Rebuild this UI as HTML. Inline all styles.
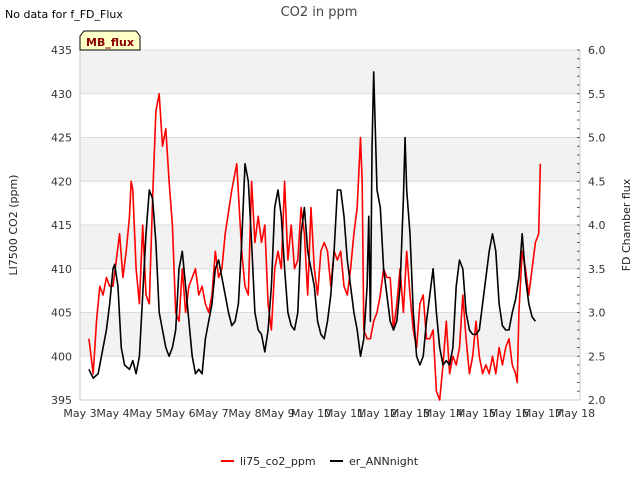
<!DOCTYPE html>
<html><head><meta charset="utf-8"><style>
body{margin:0;background:#fff;font-family:"Liberation Sans","DejaVu Sans",sans-serif}
svg text{font-family:"DejaVu Sans","Liberation Sans",sans-serif}
</style></head><body>
<svg id="c" width="640" height="480" viewBox="0 0 640 480">
<rect width="640" height="480" fill="#fff"/>
<text x="5" y="18" font-size="11" fill="#000">No data for f_FD_Flux</text>
<text x="319" y="16" font-size="13" fill="#444" text-anchor="middle">CO2 in ppm</text>
<g id="grid"></g>
<g id="axes"></g>
<g id="series"></g>
<g>
<path d="M80,50 L80,36 L84,31 L136,31 L140,36 L140,50 Z" fill="#ffffc8" stroke="#000" stroke-width="1"/>
<text x="110" y="46" font-size="11" font-weight="bold" fill="#8b0000" text-anchor="middle">MB_flux</text></g>
<text transform="translate(17,225) rotate(-90)" font-size="11" fill="#222" text-anchor="middle">LI7500 CO2 (ppm)</text>
<text transform="translate(630,225) rotate(-90)" font-size="11" fill="#222" text-anchor="middle">FD Chamber flux</text>
<g>
<line x1="221" y1="461" x2="234" y2="461" stroke="#f00" stroke-width="2"/>
<text x="240" y="465" font-size="11" fill="#222">li75_co2_ppm</text>
<line x1="330" y1="461" x2="343" y2="461" stroke="#000" stroke-width="2"/>
<text x="349" y="465" font-size="11" fill="#222">er_ANNnight</text></g>
</svg>
<script>
const xTickLabels=["May 3","May 4","May 5","May 6","May 7","May 8","May 9","May 10","May 11","May 12","May 13","May 14","May 15","May 16","May 17","May 18"];
const leftTicks=[395,400,405,410,415,420,425,430,435];
const rightTicks=["2.0","2.5","3.0","3.5","4.0","4.5","5.0","5.5","6.0"];
const redDays=[3.27,3.4,3.5,3.6,3.7,3.8,3.9,4.0,4.1,4.2,4.3,4.4,4.5,4.55,4.6,4.7,4.8,4.9,5.0,5.1,5.2,5.3,5.4,5.5,5.6,5.7,5.8,5.9,6.0,6.1,6.2,6.3,6.4,6.5,6.6,6.7,6.8,6.9,7.0,7.1,7.2,7.3,7.4,7.6,7.75,7.9,8.0,8.1,8.2,8.3,8.4,8.5,8.6,8.7,8.8,8.9,9.0,9.1,9.2,9.3,9.4,9.5,9.6,9.7,9.8,9.9,10.0,10.1,10.2,10.3,10.4,10.5,10.6,10.7,10.8,10.9,11.0,11.1,11.2,11.3,11.4,11.5,11.55,11.6,11.7,11.8,11.9,12.0,12.1,12.2,12.3,12.4,12.5,12.6,12.7,12.8,12.9,13.0,13.1,13.2,13.3,13.4,13.5,13.6,13.7,13.8,13.9,14.0,14.1,14.2,14.3,14.4,14.5,14.6,14.7,14.8,14.9,15.0,15.1,15.2,15.3,15.4,15.5,15.6,15.7,15.8,15.9,16.0,16.1,16.2,16.25,16.3,16.4,16.5,16.6,16.7,16.8,16.9,16.95];
const redVals=[402,398,404,408,407,409,408,408,411,414,409,412,416,420,419,410,406,415,407,406,418,428,430,424,426,420,415,405,404,410,405,408,409,410,407,408,406,405,407,412,409,410,414,419,422,412,408,407,420,413,416,413,415,406,403,410,412,410,420,411,415,410,411,417,414,407,417,410,407,412,413,412,408,412,411,412,408,407,410,414,417,425,420,403,402,402,404,405,407,410,409,409,403,406,410,405,412,407,403,401,406,407,402,402,403,396,395,399,404,398,400,399,401,407,402,398,400,404,400,398,399,398,400,398,401,399,401,402,399,398,397,405,412,410,407,410,413,414,422];
const blackDays=[3.27,3.4,3.55,3.7,3.8,3.9,4.0,4.05,4.15,4.25,4.35,4.5,4.6,4.7,4.8,4.9,5.0,5.1,5.2,5.3,5.4,5.5,5.6,5.7,5.8,5.9,6.0,6.1,6.2,6.3,6.4,6.5,6.6,6.7,6.8,6.9,7.0,7.1,7.2,7.3,7.4,7.5,7.6,7.7,7.8,7.9,8.0,8.1,8.2,8.3,8.4,8.5,8.6,8.7,8.8,8.9,9.0,9.1,9.2,9.3,9.4,9.5,9.6,9.7,9.8,9.9,10.0,10.1,10.2,10.3,10.4,10.5,10.6,10.7,10.8,10.9,11.0,11.1,11.2,11.3,11.4,11.5,11.6,11.7,11.75,11.8,11.85,11.9,12.0,12.1,12.2,12.3,12.4,12.5,12.6,12.7,12.8,12.85,12.9,13.0,13.1,13.2,13.3,13.4,13.5,13.6,13.7,13.8,13.9,14.0,14.1,14.2,14.3,14.4,14.5,14.6,14.7,14.8,14.9,15.0,15.1,15.2,15.3,15.4,15.5,15.6,15.7,15.8,15.9,16.0,16.1,16.2,16.3,16.4,16.5,16.6,16.7,16.8];
const blackVals=[2.35,2.25,2.3,2.6,2.8,3.1,3.5,3.55,3.3,2.6,2.4,2.35,2.45,2.3,2.5,3.2,3.9,4.4,4.3,3.8,3.0,2.8,2.6,2.5,2.6,2.8,3.5,3.7,3.3,2.9,2.5,2.3,2.35,2.3,2.7,2.9,3.1,3.5,3.6,3.4,3.2,3.0,2.85,2.9,3.1,3.8,4.7,4.5,3.8,3.0,2.8,2.75,2.55,2.8,3.3,4.2,4.4,4.1,3.5,3.0,2.85,2.8,3.0,3.9,4.2,3.7,3.5,3.3,2.9,2.75,2.7,2.9,3.2,3.7,4.4,4.4,4.1,3.6,3.3,3.0,2.8,2.5,2.7,3.3,4.1,2.9,4.9,5.75,4.4,4.2,3.5,3.2,2.9,2.8,2.9,3.3,4.3,5.0,4.4,3.9,3.0,2.5,2.4,2.5,2.9,3.2,3.5,3.0,2.6,2.4,2.45,2.4,2.6,3.3,3.6,3.5,3.0,2.8,2.75,2.75,2.8,3.1,3.4,3.7,3.9,3.7,3.1,2.85,2.8,2.8,3.0,3.15,3.4,3.9,3.4,3.1,2.95,2.9];
const NS="http://www.w3.org/2000/svg";
const L=80,R=580,T=50,B=400;
const x=d=>L+(d-3)*33;
const yL=v=>B-(v-395)/40*(B-T);
const yR=v=>B-(v-2)/4*(B-T);
function mk(tag,attrs,parent){const e=document.createElementNS(NS,tag);for(const k in attrs)e.setAttribute(k,attrs[k]);parent.appendChild(e);return e;}
const grid=document.getElementById('grid'),axes=document.getElementById('axes'),series=document.getElementById('series');
for(let i=0;i<leftTicks.length-1;i++){
  if(i%2===1){const r=mk('rect',{x:L,y:yL(leftTicks[i+1]),width:R-L,height:yL(leftTicks[i])-yL(leftTicks[i+1]),fill:'#f2f2f2'},grid);
  
  }
}
leftTicks.forEach(v=>{const l=mk('line',{x1:L,x2:R,y1:yL(v),y2:yL(v),stroke:'#dcdcdc','stroke-width':1},grid);


const t=mk('text',{x:L-8,y:yL(v)+4,'font-size':11,fill:'#333','text-anchor':'end'},axes);t.textContent=v;

});
rightTicks.forEach(s=>{const v=parseFloat(s);const t=mk('text',{x:R+8,y:yR(v)+4,'font-size':11,fill:'#333'},axes);t.textContent=s;

});
for(let v=2.0;v<=6.001;v+=0.1){mk('line',{x1:R-3,x2:R,y1:yR(v),y2:yR(v),stroke:'#555','stroke-width':1},axes);}
mk('line',{x1:L,x2:L,y1:T,y2:B,stroke:'#ccc'},axes);mk('line',{x1:R,x2:R,y1:T,y2:B,stroke:'#ccc'},axes);
mk('line',{x1:L,x2:R,y1:B,y2:B,stroke:'#ccc'},axes);
xTickLabels.forEach((s,i)=>{const t=mk('text',{x:x(3+i),y:B+17,'font-size':11,fill:'#333','text-anchor':'middle'},axes);t.textContent=s;

});
const rp=mk('polyline',{points:redDays.map((d,i)=>x(d)+','+yL(redVals[i])).join(' '),fill:'none',stroke:'#f00','stroke-width':1.6,'stroke-linejoin':'round'},series);


const bp=mk('polyline',{points:blackDays.map((d,i)=>x(d)+','+yR(blackVals[i])).join(' '),fill:'none',stroke:'#000','stroke-width':1.6,'stroke-linejoin':'round'},series);


</script>
</body></html>
